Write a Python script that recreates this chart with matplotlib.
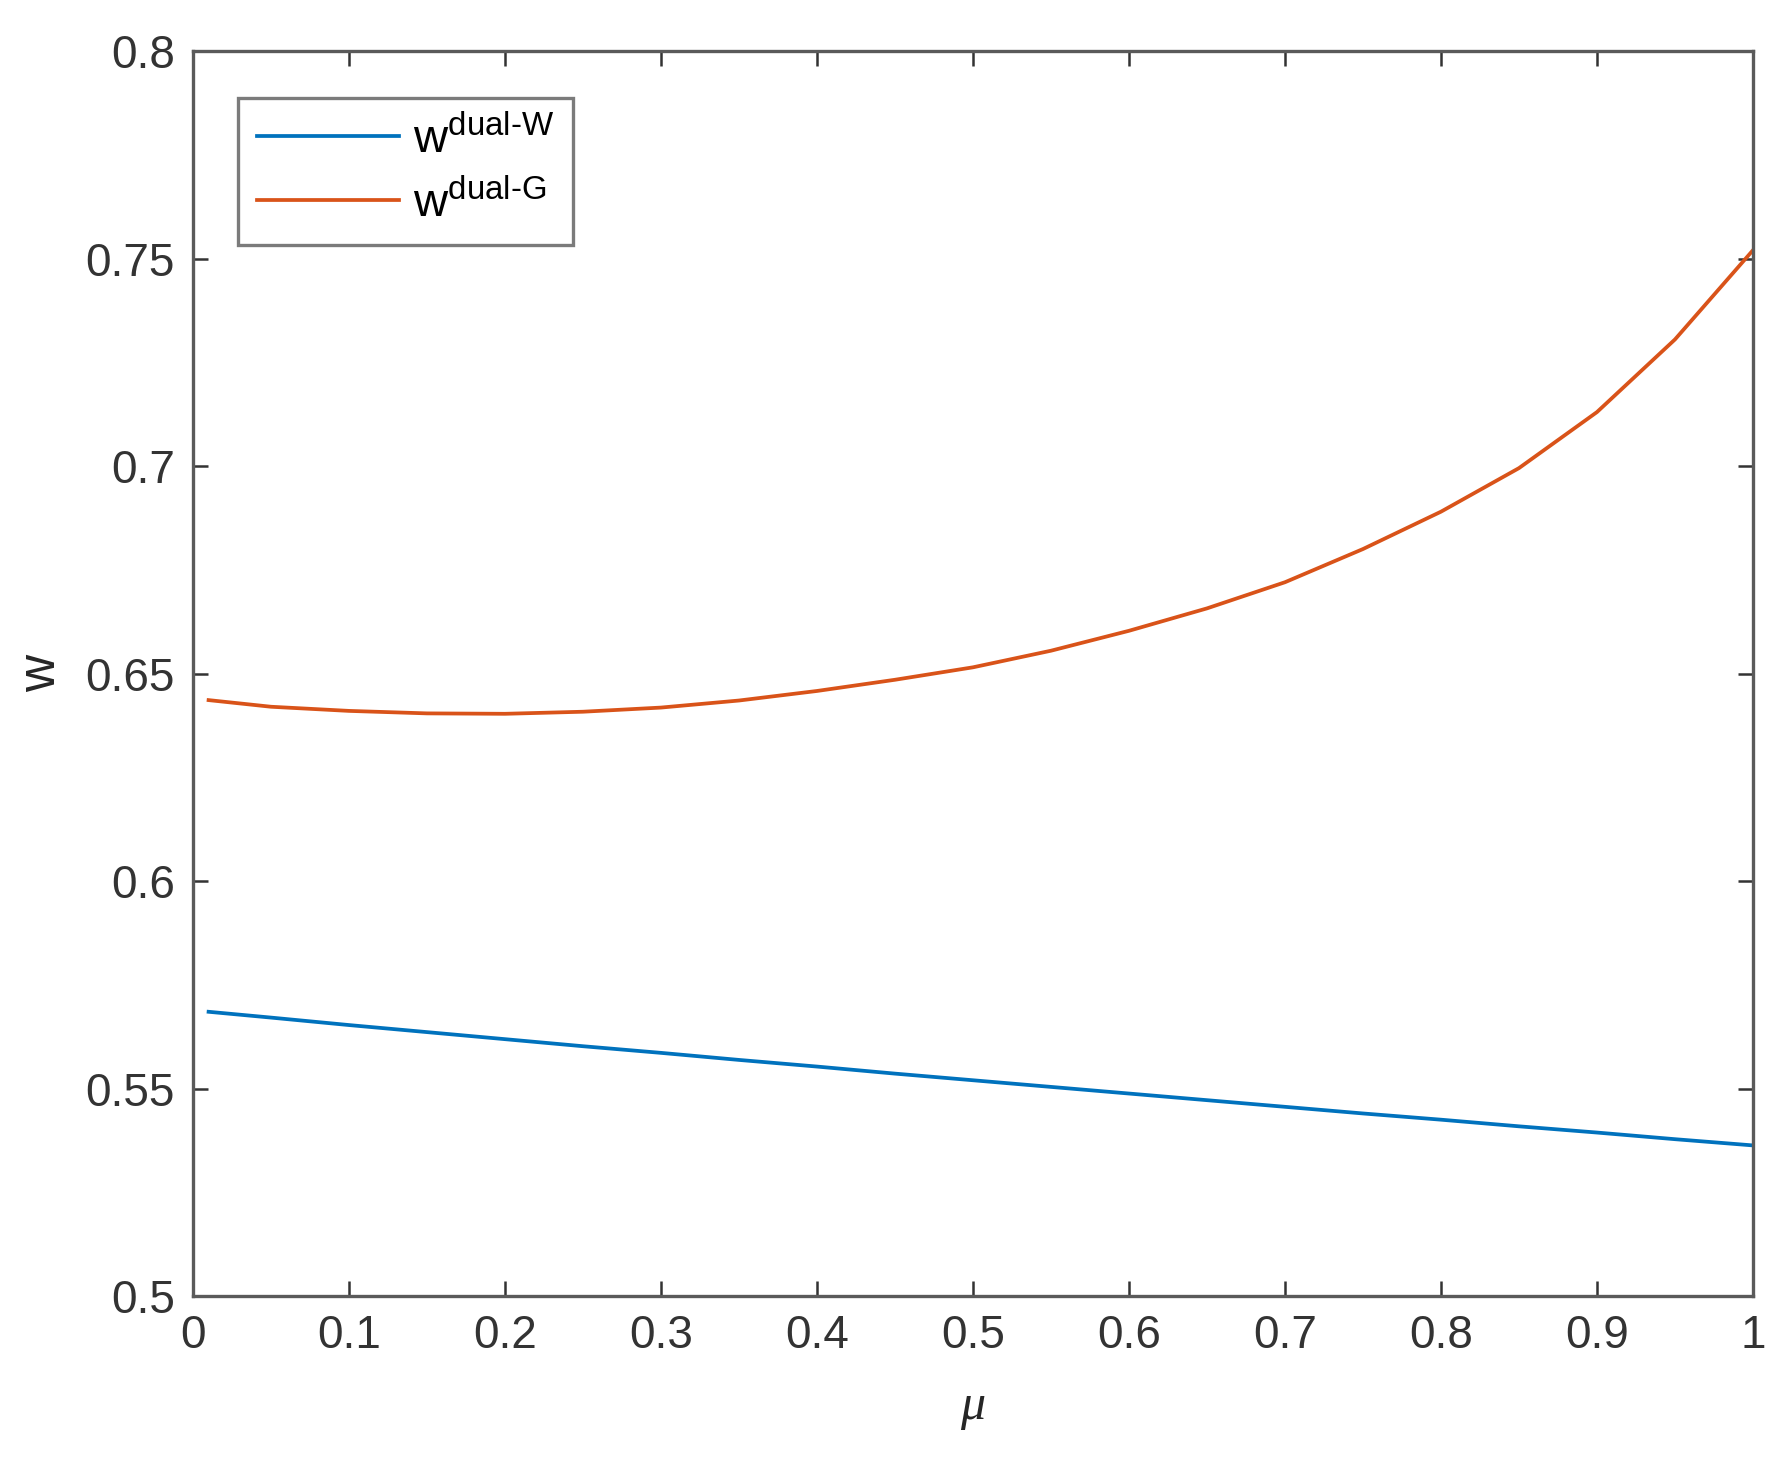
import matplotlib
matplotlib.use("Agg")
import matplotlib.pyplot as plt

# values
mu = [0.01, 0.05, 0.1, 0.15, 0.2, 0.25, 0.3, 0.35, 0.4, 0.45, 0.5, 0.55, 0.6,
      0.65, 0.7, 0.75, 0.8, 0.85, 0.9, 0.95, 1.0]
w_dual_w = [0.5685, 0.5671, 0.5653, 0.5636, 0.5619, 0.5602, 0.5586, 0.5569, 0.5553,
            0.5536, 0.5520, 0.5504, 0.5488, 0.5472, 0.5456, 0.5440, 0.5425, 0.5409,
            0.5394, 0.5378, 0.5363]
w_dual_g = [0.6436, 0.6420, 0.6410, 0.6404, 0.6403, 0.6408, 0.6418, 0.6435, 0.6458,
            0.6485, 0.6515, 0.6555, 0.6603, 0.6657, 0.6720, 0.6800, 0.6890, 0.6995,
            0.7130, 0.7305, 0.7520]

x_ticks = [0, 0.1, 0.2, 0.3, 0.4, 0.5, 0.6, 0.7, 0.8, 0.9, 1]
y_ticks = [0.5, 0.55, 0.6, 0.65, 0.7, 0.75, 0.8]

plt.rcParams["font.family"] = ["Liberation Sans", "DejaVu Sans"]
plt.rcParams["mathtext.fontset"] = "custom"
plt.rcParams["mathtext.rm"] = "Liberation Sans"
plt.rcParams["mathtext.it"] = "Liberation Sans:italic"

fig = plt.figure(figsize=(17.82, 14.62), dpi=100)
ax = fig.add_axes([0.1083, 0.1135, 0.8754, 0.8516])

ax.plot(mu, w_dual_w, color="#0072BD", lw=2.7, label=r"$\mathrm{w}^{\mathrm{dual\text{-}W}}$")
ax.plot(mu, w_dual_g, color="#D95319", lw=2.7, label=r"$\mathrm{w}^{\mathrm{dual\text{-}G}}$")

ax.set_xlim(0, 1)
ax.set_ylim(0.5, 0.8)
ax.set_xticks(x_ticks)
ax.set_xticklabels([f"{t:g}" for t in x_ticks])
ax.set_yticks(y_ticks)
ax.set_yticklabels([f"{t:g}" for t in y_ticks])

ax.tick_params(direction="in", length=11, width=1.8, top=True, right=True,
               labelsize=33, color="#333333", labelcolor="#333333", pad=13)
for s in ax.spines.values():
    s.set_color("#5a5a5a")
    s.set_linewidth(2.4)

ax.set_xlabel("μ", fontsize=36, color="#262626", labelpad=18,
              family="Liberation Serif", style="italic")
ax.set_ylabel("w", fontsize=37, color="#262626", labelpad=14)

leg = ax.legend(loc="upper left", bbox_to_anchor=(0.029, 0.962), borderaxespad=0,
                fontsize=34, frameon=True, fancybox=False, handlelength=3.0,
                handletextpad=0.3, borderpad=0.4, labelspacing=0.38)
leg.get_frame().set_edgecolor("#5a5a5a")
leg.get_frame().set_linewidth(2.4)

fig.savefig("out.png", dpi=100)
